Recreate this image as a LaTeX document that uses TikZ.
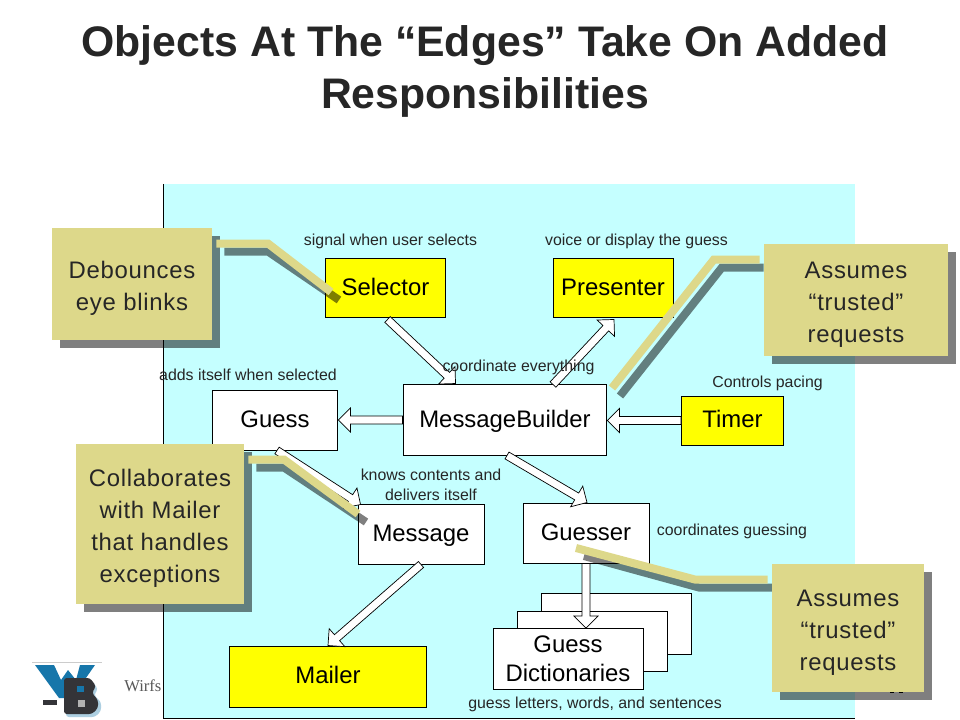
\documentclass[tikz,border=0pt]{standalone}
\usepackage{fontspec}
\setmainfont{Liberation Sans}
\newfontfamily\notefont[LetterSpace=3]{Liberation Sans}
\newfontfamily\footfont{Liberation Serif}
\usepackage{tikz}
\usetikzlibrary{calc}
\definecolor{panelcyan}{RGB}{197,255,255}
\definecolor{classyellow}{RGB}{255,255,0}
\definecolor{notetan}{RGB}{221,216,138}
\definecolor{logoblue}{RGB}{22,118,170}
\definecolor{logodark}{RGB}{52,52,56}
\pgfdeclarelayer{shade}
\pgfdeclarelayer{top}
\pgfsetlayers{main,shade,top}
\tikzset{
  classbox/.style={draw=black, line width=0.7pt, fill=white, font=\fontsize{17}{20}\selectfont, align=center, inner sep=0pt, text height=13pt, text depth=3pt},
  activebox/.style={classbox, fill=classyellow},
  remark/.style={font=\fontsize{11.3}{14.2}\selectfont, align=center, text=black!85, inner sep=0pt},
  notebox/.style={fill=notetan, font=\notefont\fontsize{17}{22.8}\selectfont, align=center, text=black!85, inner sep=0pt},
  noteshade/.style={fill=black, opacity=0.5},
  leader/.style={draw=notetan, line width=5.7pt, line join=miter},
  leadershade/.style={draw=black, opacity=0.5, line width=5.7pt, line join=miter},
}
\newcommand{\notetop}{\rule{0pt}{18.1pt}}
% block arrow from #1 to #2
\newcommand{\blockarrow}[2]{
  \coordinate (bt) at (#1);
  \coordinate (bp) at (#2);
  \coordinate (bh) at ($(bp)!8.5pt!(bt)$);
  \draw[fill=white, line width=0.5pt, line join=miter]
    ($(bt)!2.8pt!90:(bp)$) -- ($(bh)!2.8pt!-90:(bt)$) -- ($(bh)!8.5pt!-90:(bt)$) -- (bp)
    -- ($(bh)!8.5pt!90:(bt)$) -- ($(bh)!2.8pt!90:(bt)$) -- ($(bt)!2.8pt!-90:(bp)$) -- cycle;
}
\begin{document}
\begin{tikzpicture}[x=0.025cm, y=-0.025cm]
\useasboundingbox (0,0) rectangle (960,720);
\fill[white] (0,0) rectangle (960,720);

% Title
\node[font=\fontsize{30.4}{36.5}\selectfont\bfseries, align=center, text=black!85, inner sep=0pt] (title) at (485,71.5)
  {Objects At The “Edges” Take On Added\\Responsibilities};

% Footer
\node[font=\footfont\fontsize{11.8}{12}\selectfont, text=black!65, anchor=west, inner sep=0pt] (footer) at (124,686) {Wirfs};
\fill (890,691.5) rectangle (894,693);
\fill (899,691.5) rectangle (903,693);

% Panel
\fill[panelcyan] (163.5,184) rectangle (855,718);
\draw[line width=0.7pt, black] (163.5,184) -- (163.5,718) -- (855,718);

% Logo
\draw[black!20, line width=0.4pt] (32,662) -- (102,662);
\fill[logoblue] (35,665) -- (54,665) -- (61,680) -- (68,670) -- (76,680) -- (80,665) -- (95,665) -- (72,698) -- (59,698) -- cycle;
\fill[logoblue!35!white, rounded corners=2pt] (66,681) -- (92,681) -- (98,689) -- (94,695) -- (101,702) -- (101,711) -- (95,717) -- (66,717) -- cycle;
\fill[logodark, rounded corners=2pt] (64,678) -- (90,678) -- (96,686) -- (92,693) -- (98,700) -- (98,708) -- (92,714) -- (64,714) -- cycle;
\fill[logodark] (43,700) rectangle (57,705);
\fill[logoblue] (77,686) rectangle (84,692);
\fill[black!30] (78,700) rectangle (85,707);

% Dictionaries
\node[classbox, minimum width=150*0.711pt, minimum height=61*0.711pt] (dictc) at (616,623.5) {};
\node[classbox, minimum width=150*0.711pt, minimum height=60*0.711pt] (dictb) at (592,641) {};
\node[classbox, minimum width=150*0.711pt, minimum height=61*0.711pt, font=\fontsize{17}{20.5}\selectfont, text height=, text depth=] (dicta) at (568,659) {Guess\\Dictionaries};

% Classes
\node[activebox, minimum width=120*0.711pt, minimum height=60*0.711pt] (selector) at (385.5,288) {Selector};
\node[activebox, minimum width=120*0.711pt, minimum height=60*0.711pt] (presenter) at (613,288) {Presenter};
\node[classbox, minimum width=204*0.711pt, minimum height=72*0.711pt] (builder) at (505,420) {MessageBuilder};
\node[classbox, minimum width=126*0.711pt, minimum height=60*0.711pt] (guess) at (275,420) {Guess};
\node[activebox, minimum width=102*0.711pt, minimum height=49*0.711pt] (timer) at (732.5,420.5) {Timer};
\node[classbox, minimum width=126*0.711pt, minimum height=60*0.711pt] (message) at (421,534) {Message};
\node[classbox, minimum width=126*0.711pt, minimum height=60*0.711pt] (guesser) at (586,533) {Guesser};
\node[activebox, minimum width=198*0.711pt, minimum height=61*0.711pt] (mailer) at (328,676.5) {Mailer};

% Block arrows
\coordinate (selout) at ($(selector.south)+(2,1)$);
\coordinate (bldin) at ($(builder.north west)+(53,0)$);
\blockarrow{selout}{bldin}
\coordinate (bldup) at ($(builder.north)+(48,1)$);
\coordinate (prein) at ($(presenter.south)+(1,1)$);
\blockarrow{bldup}{prein}
\blockarrow{builder.west}{guess.east}
\coordinate (bldin2) at (builder.east |- timer.west);
\blockarrow{timer.west}{bldin2}
\coordinate (gout) at ($(guess.south)+(2,0)$);
\coordinate (msgin) at ($(message.north west)+(3,1)$);
\blockarrow{gout}{msgin}
\coordinate (bldout) at ($(builder.south)+(2,-1)$);
\coordinate (gsrin) at ($(guesser.north)+(1,0)$);
\blockarrow{bldout}{gsrin}
\blockarrow{message.south}{mailer.north}
\coordinate (dictin) at (guesser.south |- dicta.north);
\blockarrow{guesser.south}{dictin}

% Remarks
\node[remark] (rselector) at (390.5,241) {signal when user selects};
\node[remark] (rpresenter) at (636.5,241) {voice or display the guess};
\node[remark] (rbuilder) at (518.5,367) {coordinate everything};
\node[remark] (rguess) at (248,375) {adds itself when selected};
\node[remark] (rtimer) at (767.5,383) {Controls pacing};
\node[remark] (rmessage) at (431,484.5) {knows contents and\\delivers itself};
\node[remark] (rguesser) at (732,531.5) {coordinates guessing};
\node[remark] (rdict) at (595,704) {guess letters, words, and sentences};

% Notes
\begin{pgfonlayer}{top}
\node[notebox, minimum width=160*0.711pt, minimum height=112*0.711pt] (noteblink) at (132,284) {\notetop Debounces\\eye blinks};
\node[notebox, minimum width=184*0.711pt, minimum height=112*0.711pt] (notetrusta) at (856,300) {\notetop Assumes\\“trusted”\\requests};
\node[notebox, minimum width=168*0.711pt, minimum height=160*0.711pt] (notemail) at (160,524) {\notetop Collaborates\\with Mailer\\that handles\\exceptions};
\node[notebox, minimum width=152*0.711pt, minimum height=128*0.711pt] (notetrustb) at (848,628) {\notetop Assumes\\“trusted”\\requests};

% Leaders
\coordinate (endblink) at (331,292);
\coordinate (endtrusta) at (612,388);
\coordinate (endmail) at (358,514);
\coordinate (endtrustb) at (576,548);
\draw[leader] ($(noteblink.north east)+(4,16)$) -- ++(52,0) -- (endblink);
\draw[leader] ($(notetrusta.north west)+(-4,16)$) -- ++(-46,0) -- (endtrusta);
\draw[leader] ($(notemail.north east)+(4,16)$) -- ++(36,0) -- (endmail);
\draw[leader] ($(notetrustb.north west)+(-4,16)$) -- ++(-72,0) -- (endtrustb);
\end{pgfonlayer}

% Shadows
\begin{pgfonlayer}{shade}
\foreach \n in {noteblink,notetrusta,notemail,notetrustb} {
  \fill[noteshade] ($(\n.north west)+(8,8)$) rectangle ($(\n.south east)+(8,8)$);
}
\draw[leadershade] ($(noteblink.north east)+(12,24)$) -- ++(44,0) -- ($(endblink)+(8,8)$);
\draw[leadershade] ($(notetrusta.north west)+(0,24)$) -- ++(-42,0) -- ($(endtrusta)+(8,8)$);
\draw[leadershade] ($(notemail.north east)+(12,24)$) -- ++(28,0) -- ($(endmail)+(8,8)$);
\draw[leadershade] ($(notetrustb.north west)+(4,24)$) -- ++(-76,0) -- ($(endtrustb)+(8,8)$);
\end{pgfonlayer}
\end{tikzpicture}
\end{document}
